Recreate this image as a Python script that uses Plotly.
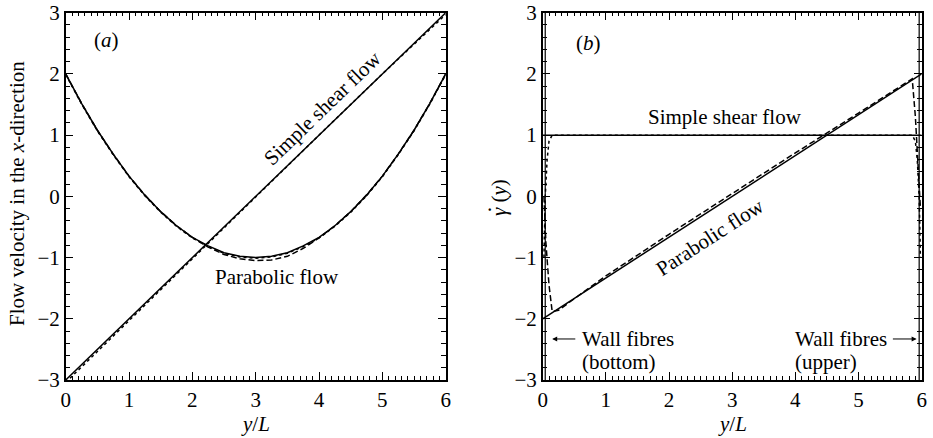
import plotly.graph_objects as go

FONT = "Liberation Serif"

# ---------------- data: panel (a) ----------------
xa = [0, 0.25, 0.5, 0.75, 1, 1.25, 1.5, 1.75, 2, 2.25, 2.5, 2.75, 3,
      3.25, 3.5, 3.75, 4, 4.25, 4.5, 4.75, 5, 5.25, 5.5, 5.75, 6]
para_solid_a = [2.0, 1.52, 1.08, 0.69, 0.33, 0.02, -0.25, -0.48, -0.67, -0.81, -0.92, -0.98, -1.0,
                -0.98, -0.92, -0.81, -0.67, -0.48, -0.25, 0.02, 0.33, 0.69, 1.08, 1.52, 2.0]
para_dash_a = [2.0, 1.52, 1.08, 0.69, 0.33, 0.02, -0.25, -0.48, -0.67, -0.83, -0.95, -1.02, -1.05,
               -1.04, -0.98, -0.85, -0.68, -0.48, -0.25, 0.02, 0.33, 0.69, 1.08, 1.52, 2.0]
para_dot_a = [1.99, 1.51, 1.07, 0.68, 0.32, 0.01, -0.26, -0.49, -0.68, -0.82, -0.93, -0.99, -1.01,
              -0.99, -0.93, -0.82, -0.68, -0.49, -0.26, 0.01, 0.32, 0.68, 1.07, 1.51, 1.99]
shear_x_a = [0, 6]
shear_solid_a = [-3, 3]
shear_dot_x_a = [0, 1, 2, 3, 4, 5, 6]
shear_dot_a = [-3.04, -2.03, -1.02, 0.0, 1.0, 2.0, 2.97]

# ---------------- data: panel (b) ----------------
shear_solid_x_b = [0, 6]
shear_solid_b = [1, 1]
wall_left_x_b = [0.04, 0.04]
wall_right_x_b = [5.96, 5.96]
wall_y_b = [-3, 3]
shear_dot_x_b = [0.02, 0.04, 0.07, 0.1, 0.15, 1, 3, 5, 5.85, 5.9, 5.93, 5.96, 5.98]
shear_dot_b = [-1.0, 0.0, 0.6, 0.9, 1.0, 1.0, 1.0, 1.0, 1.0, 0.9, 0.6, 0.0, -1.0]
para_solid_x_b = [0, 6]
para_solid_b = [-2, 2]
para_dash_x_b = [0.02, 0.05, 0.1, 0.15, 0.25, 1, 2, 3, 4, 5, 5.75, 5.85, 5.9, 5.95, 5.98]
para_dash_b = [0.0, -0.75, -1.45, -1.88, -1.86, -1.30, -0.62, 0.05, 0.71, 1.36, 1.86, 1.92, 1.3, 0.4, -0.2]

x_ticks = [0, 1, 2, 3, 4, 5, 6]
y_ticks = [-3, -2, -1, 0, 1, 2, 3]

fig = go.Figure()

def line(x, y, dash, xa_, ya_, w=1.5):
    fig.add_trace(go.Scatter(x=x, y=y, mode="lines", xaxis=xa_, yaxis=ya_,
                             line=dict(color="black", width=w, dash=dash),
                             showlegend=False, hoverinfo="skip"))

# panel (a)
line(shear_dot_x_a, shear_dot_a, "dot", "x", "y")
line(xa, para_dot_a, "dot", "x", "y")
line(xa, para_dash_a, "6px,3px", "x", "y")
line(shear_x_a, shear_solid_a, "solid", "x", "y")
line(xa, para_solid_a, "solid", "x", "y")

# panel (b)
line(shear_dot_x_b, shear_dot_b, "dot", "x2", "y2")
line(para_dash_x_b, para_dash_b, "6px,3px", "x2", "y2")
line(shear_solid_x_b, shear_solid_b, "solid", "x2", "y2")
line(para_solid_x_b, para_solid_b, "solid", "x2", "y2")
line(wall_left_x_b, wall_y_b, "solid", "x2", "y2", 1.2)
line(wall_right_x_b, wall_y_b, "solid", "x2", "y2", 1.2)

W, H = 933, 438
ydom = [1 - 380 / H, 1 - 12.7 / H]
xdom1 = [65.7 / W, 445.7 / W]
xdom2 = [542.7 / W, 921.7 / W]

tick_font = dict(family=FONT, size=21, color="black")
base = dict(showgrid=False, zeroline=False, showline=True, linecolor="black",
            linewidth=1.5, mirror=True, ticks="inside", tickcolor="black",
            tickwidth=1.2, ticklen=8, automargin=False, tickfont=tick_font)
xminor = dict(dtick=0.1, ticks="inside", ticklen=4, tickcolor="black", tickwidth=1)
yminor = dict(dtick=0.2, ticks="inside", ticklen=5, tickcolor="black", tickwidth=1)

def xax(dom, anchor, **kw):
    return dict(base, range=[0, 6], tickvals=x_ticks, minor=xminor, domain=dom, anchor=anchor, **kw)

def yax(dom, anchor, **kw):
    return dict(base, range=[-3, 3], tickvals=y_ticks, minor=yminor, domain=dom, anchor=anchor, **kw)

fig.update_layout(
    width=W, height=H,
    margin=dict(l=0, r=0, t=0, b=0, autoexpand=False),
    plot_bgcolor="white", paper_bgcolor="white",
    xaxis=xax(xdom1, "y"),
    yaxis=yax(ydom, "x"),
    xaxis2=xax(xdom2, "y2"),
    yaxis2=yax(ydom, "x2"),
    # mirrored tick axes (top / right)
    xaxis3=xax(xdom1, "y", overlaying="x", side="top", showticklabels=False),
    yaxis3=yax(ydom, "x", overlaying="y", side="right", showticklabels=False),
    xaxis4=xax(xdom2, "y2", overlaying="x2", side="top", showticklabels=False),
    yaxis4=yax(ydom, "x2", overlaying="y2", side="right", showticklabels=False),
)
# dummy invisible traces so the mirror axes render
for xa_, ya_ in (("x3", "y3"), ("x4", "y4")):
    fig.add_trace(go.Scatter(x=[0], y=[0], xaxis=xa_, yaxis=ya_, mode="markers",
                             marker=dict(opacity=0), showlegend=False, hoverinfo="skip"))

tf = dict(family=FONT, size=21, color="black")
C = dict(showarrow=False, font=tf, xanchor="center", yanchor="middle")
L = dict(showarrow=False, font=tf, xanchor="left", yanchor="middle")
ann = [
    dict(C, x=0.65, y=2.56, xref="x", yref="y", text="(<i>a</i>)"),
    dict(C, x=4.06, y=1.44, xref="x", yref="y", text="Simple shear flow", textangle=-44),
    dict(C, x=3.34, y=-1.32, xref="x", yref="y", text="Parabolic flow"),
    dict(C, x=0.73, y=2.51, xref="x2", yref="y2", text="(<i>b</i>)"),
    dict(C, x=2.89, y=1.29, xref="x2", yref="y2", text="Simple shear flow"),
    dict(C, x=2.65, y=-0.66, xref="x2", yref="y2", text="Parabolic flow", textangle=-33),
    dict(L, x=0.59, y=-2.33, xref="x2", yref="y2", text="Wall fibres"),
    dict(L, x=0.59, y=-2.70, xref="x2", yref="y2", text="(bottom)"),
    dict(L, x=3.96, y=-2.33, xref="x2", yref="y2", text="Wall fibres"),
    dict(L, x=3.96, y=-2.70, xref="x2", yref="y2", text="(upper)"),
    dict(x=0.15, y=-2.33, xref="x2", yref="y2", ax=0.54, ay=-2.33, axref="x2", ayref="y2",
         text="", showarrow=True, arrowhead=2, arrowsize=1, arrowwidth=1, arrowcolor="black"),
    dict(x=5.92, y=-2.33, xref="x2", yref="y2", ax=5.52, ay=-2.33, axref="x2", ayref="y2",
         text="", showarrow=True, arrowhead=2, arrowsize=1, arrowwidth=1, arrowcolor="black"),
    # axis titles
    dict(C, x=255.7 / W, y=1 - 424 / H, xref="paper", yref="paper", text="<i>y</i>/<i>L</i>"),
    dict(C, x=732 / W, y=1 - 424 / H, xref="paper", yref="paper", text="<i>y</i>/<i>L</i>"),
    dict(C, x=17 / W, y=1 - 194 / H, xref="paper", yref="paper",
         text="Flow velocity in the <i>x</i>-direction", textangle=-90),
    dict(C, x=499 / W, y=1 - 197 / H, xref="paper", yref="paper",
         text="<i>γ</i> (<i>y</i>)", textangle=-90),
    dict(C, x=490 / W, y=1 - 210 / H, xref="paper", yref="paper", text="·", textangle=-90),
]
fig.update_layout(annotations=ann)

fig.write_html("out.html")
